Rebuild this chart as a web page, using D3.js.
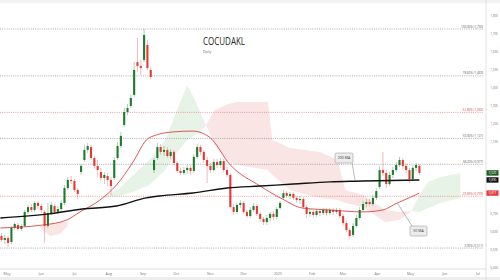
<!DOCTYPE html>
<html>
<head>
<meta charset="utf-8">
<script src="https://cdn.jsdelivr.net/npm/d3@7"></script>
<style>
  html, body { margin: 0; padding: 0; background: #fff; }
  svg { display: block; font-family: "Open Sans", "Noto Sans", sans-serif; }
</style>
</head>
<body>
<svg id="chart" width="500" height="280"></svg>
<script>
// daily-ish candles: date, open, high, low, close
const candles = [
  ["2024-04-26",0.578,0.595,0.545,0.556],["2024-04-29",0.556,0.584,0.534,0.567],["2024-05-02",0.567,0.578,0.517,0.539],
  ["2024-05-05",0.545,0.634,0.534,0.623],["2024-05-08",0.623,0.656,0.611,0.645],["2024-05-11",0.639,0.650,0.606,0.617],
  ["2024-05-14",0.617,0.645,0.606,0.634],["2024-05-17",0.634,0.723,0.628,0.712],["2024-05-20",0.712,0.751,0.701,0.739],
  ["2024-05-23",0.739,0.756,0.712,0.723],["2024-05-26",0.723,0.773,0.712,0.762],["2024-05-29",0.762,0.773,0.728,0.745],
  ["2024-06-01",0.745,0.756,0.706,0.723],["2024-06-04",0.712,0.723,0.539,0.634],["2024-06-07",0.634,0.762,0.623,0.706],
  ["2024-06-10",0.706,0.767,0.695,0.751],["2024-06-13",0.745,0.756,0.701,0.712],["2024-06-16",0.712,0.745,0.701,0.728],
  ["2024-06-19",0.728,0.778,0.712,0.762],["2024-06-22",0.762,0.862,0.751,0.845],["2024-06-25",0.845,0.906,0.834,0.890],
  ["2024-06-28",0.890,0.912,0.867,0.884],["2024-07-01",0.884,0.895,0.823,0.834],["2024-07-04",0.834,0.845,0.784,0.812],
  ["2024-07-07",0.934,0.979,0.918,0.968],["2024-07-10",1.001,1.085,0.990,1.057],["2024-07-13",1.057,1.096,1.040,1.079],
  ["2024-07-16",1.073,1.085,1.001,1.012],["2024-07-19",1.012,1.023,0.951,0.968],["2024-07-22",0.968,1.001,0.906,0.945],
  ["2024-07-25",0.934,0.957,0.884,0.901],["2024-07-28",0.901,0.934,0.867,0.918],["2024-07-31",0.912,0.929,0.856,0.890],
  ["2024-08-03",0.890,0.906,0.806,0.856],["2024-08-06",0.901,1.018,0.890,1.001],["2024-08-09",1.012,1.101,1.001,1.079],
  ["2024-08-12",1.079,1.157,1.068,1.135],["2024-08-15",1.196,1.290,1.185,1.268],["2024-08-18",1.268,1.313,1.251,1.290],
  ["2024-08-21",1.302,1.363,1.290,1.346],["2024-08-24",1.363,1.546,1.352,1.502],["2024-08-27",1.546,1.680,1.491,1.524],
  ["2024-08-30",1.524,1.558,1.474,1.513],["2024-09-02",1.558,1.730,1.546,1.697],["2024-09-05",1.641,1.669,1.502,1.513],
  ["2024-09-08",1.502,1.519,1.452,1.463],["2024-09-11",0.945,1.012,0.929,1.001],["2024-09-14",1.012,1.096,1.001,1.073],
  ["2024-09-17",1.073,1.090,1.029,1.046],["2024-09-20",1.046,1.079,1.023,1.057],["2024-09-23",1.057,1.073,1.012,1.023],
  ["2024-09-26",1.023,1.062,1.007,1.046],["2024-09-29",1.046,1.057,0.973,0.984],["2024-10-02",0.984,0.995,0.929,0.940],
  ["2024-10-05",0.940,0.957,0.918,0.929],["2024-10-08",0.929,0.962,0.918,0.945],["2024-10-11",0.945,0.973,0.923,0.957],
  ["2024-10-14",0.957,0.973,0.918,0.940],["2024-10-17",0.940,1.034,0.929,1.018],["2024-10-20",1.018,1.090,1.007,1.073],
  ["2024-10-23",1.073,1.085,1.029,1.046],["2024-10-26",1.046,1.057,0.984,1.001],["2024-10-29",1.001,1.018,0.873,0.968],
  ["2024-11-01",0.968,0.984,0.929,0.945],["2024-11-04",0.945,1.007,0.934,0.990],["2024-11-07",0.990,1.007,0.957,0.973],
  ["2024-11-10",0.973,1.012,0.957,0.995],["2024-11-13",0.995,1.007,0.934,0.945],["2024-11-16",0.945,0.962,0.906,0.918],
  ["2024-11-19",0.918,0.929,0.728,0.739],["2024-11-22",0.739,0.756,0.695,0.712],["2024-11-25",0.712,0.762,0.701,0.751],
  ["2024-11-28",0.751,0.778,0.734,0.762],["2024-12-01",0.762,0.773,0.701,0.712],["2024-12-04",0.712,0.723,0.678,0.689],
  ["2024-12-07",0.689,0.739,0.678,0.723],["2024-12-10",0.723,0.762,0.712,0.745],["2024-12-13",0.745,0.756,0.689,0.701],
  ["2024-12-16",0.701,0.712,0.656,0.673],["2024-12-19",0.673,0.684,0.639,0.656],["2024-12-22",0.656,0.695,0.639,0.678],
  ["2024-12-25",0.678,0.712,0.662,0.701],["2024-12-28",0.701,0.717,0.667,0.684],["2024-12-31",0.684,0.739,0.673,0.728],
  ["2025-01-03",0.734,0.773,0.723,0.762],["2025-01-06",0.790,0.834,0.778,0.817],["2025-01-09",0.817,0.828,0.790,0.801],
  ["2025-01-12",0.801,0.823,0.784,0.812],["2025-01-15",0.812,0.823,0.778,0.790],["2025-01-18",0.790,0.801,0.762,0.778],
  ["2025-01-21",0.778,0.801,0.756,0.784],["2025-01-24",0.784,0.795,0.728,0.739],["2025-01-27",0.739,0.751,0.678,0.701],
  ["2025-01-30",0.701,0.728,0.684,0.712],["2025-02-02",0.712,0.723,0.678,0.695],["2025-02-05",0.695,0.728,0.684,0.717],
  ["2025-02-08",0.717,0.728,0.689,0.706],["2025-02-11",0.706,0.734,0.695,0.723],["2025-02-14",0.723,0.734,0.689,0.706],
  ["2025-02-17",0.706,0.734,0.695,0.723],["2025-02-20",0.723,0.734,0.695,0.712],["2025-02-23",0.712,0.734,0.701,0.723],
  ["2025-02-26",0.723,0.734,0.678,0.689],["2025-03-01",0.689,0.701,0.634,0.650],["2025-03-04",0.650,0.662,0.600,0.611],
  ["2025-03-07",0.611,0.623,0.561,0.578],["2025-03-10",0.584,0.650,0.572,0.634],["2025-03-13",0.634,0.695,0.623,0.678],
  ["2025-03-16",0.678,0.739,0.667,0.723],["2025-03-19",0.723,0.773,0.712,0.756],["2025-03-22",0.756,0.784,0.739,0.767],
  ["2025-03-25",0.767,0.784,0.745,0.756],["2025-03-28",0.756,0.806,0.745,0.790],["2025-03-31",0.790,0.845,0.778,0.828],
  ["2025-04-03",0.851,0.968,0.840,0.945],["2025-04-06",0.945,1.046,0.912,0.929],["2025-04-09",0.929,0.945,0.845,0.867],
  ["2025-04-12",0.867,0.934,0.856,0.918],["2025-04-15",0.918,0.962,0.901,0.945],["2025-04-18",0.945,0.990,0.934,0.973],
  ["2025-04-21",0.973,1.018,0.962,1.001],["2025-04-24",1.001,1.012,0.951,0.968],["2025-04-27",0.968,0.984,0.929,0.945],
  ["2025-04-30",0.945,0.957,0.873,0.895],["2025-05-03",0.895,0.973,0.884,0.957],["2025-05-06",0.957,0.984,0.940,0.973],
  ["2025-05-09",0.968,0.979,0.918,0.929]
];

// moving averages
const ma200 = [
  ["2024-04-25",0.678],["2024-06-08",0.701],["2024-07-08",0.728],["2024-08-08",0.745],["2024-09-04",0.790],
  ["2024-09-16",0.801],["2024-10-16",0.817],["2024-11-16",0.845],["2024-12-16",0.856],["2025-01-15",0.867],
  ["2025-02-17",0.879],["2025-03-12",0.883],["2025-03-19",0.884],["2025-05-09",0.890]
];
const ma50 = [
  ["2024-04-25",0.623],["2024-06-02",0.639],["2024-06-24",0.667],["2024-07-06",0.712],["2024-07-24",0.778],
  ["2024-08-08",0.862],["2024-08-23",0.990],["2024-09-04",1.112],["2024-09-13",1.140],["2024-09-28",1.157],
  ["2024-10-16",1.162],["2024-10-31",1.129],["2024-11-19",0.973],["2024-12-16",0.856],["2025-01-05",0.784],
  ["2025-01-23",0.734],["2025-02-17",0.723],["2025-03-19",0.712],["2025-04-06",0.723],["2025-04-19",0.762],
  ["2025-04-21",0.767],["2025-05-09",0.817]
];

// cloud patches: date, upper, lower
const cloudRedJun = [["2024-05-31",0.634,0.623],["2024-06-09",0.645,0.578],["2024-06-18",0.656,0.589],["2024-06-25",0.656,0.634]];
const cloudGreenAug = [
  ["2024-07-28",0.801,0.790],["2024-08-11",0.845,0.801],["2024-08-23",0.918,0.823],["2024-09-07",1.001,0.862],
  ["2024-09-21",1.112,0.945],["2024-09-30",1.251,1.029],["2024-10-11",1.418,1.112],["2024-10-18",1.335,1.140],
  ["2024-10-25",1.235,1.168],["2024-10-28",1.196,1.196]
];
const cloudRedWinter = [
  ["2024-10-28",1.196,1.196],["2024-11-05",1.279,1.085],["2024-11-17",1.313,0.990],["2024-11-25",1.324,0.973],
  ["2024-12-23",1.324,0.945],["2024-12-27",1.112,0.918],["2025-01-12",1.068,0.834],["2025-02-08",1.046,0.790],
  ["2025-02-24",1.001,0.778],["2025-03-03",0.834,0.762],["2025-03-19",0.806,0.739],["2025-04-08",0.723,0.656],
  ["2025-04-21",0.712,0.667],["2025-05-02",0.717,0.717]
];
const cloudGreenMay = [
  ["2025-05-02",0.717,0.717],["2025-05-09",0.806,0.712],["2025-05-17",0.879,0.734],["2025-05-28",0.906,0.762],
  ["2025-06-15",0.929,0.790]
];

// fibonacci retracement
const fibPct = ["100.00%", "78.60%", "61.80%", "50.00%", "38.20%", "23.60%", "0.00%"];
const fibValues = [1.730, 1.469, 1.266, 1.121, 0.977, 0.799, 0.511];
const fibRed = [false, false, true, false, false, true, false];

const yTicks = [1.8, 1.7, 1.6, 1.5, 1.4, 1.3, 1.2, 1.1, 0.7, 0.6, 0.5, 0.4];

const parse = d3.timeParse("%Y-%m-%d");
const comma = v => d3.format(".3f")(v).replace(".", ",");

const svg = d3.select("#chart");
const right = 486, bottom = 269;

const x = d3.scaleTime()
  .domain([parse("2024-05-01"), parse("2025-07-01")])
  .range([7, 478]);
const y = d3.scaleLinear()
  .domain([0.4, 1.8])
  .range([268.0, 16.4]);

// light bands top and bottom
svg.append("rect").attr("x", 0).attr("y", 0).attr("width", 500).attr("height", 3).attr("fill", "#f2f2f2");
svg.append("rect").attr("x", 0).attr("y", 277).attr("width", 500).attr("height", 3).attr("fill", "#eeeeee");

// clouds (kept pale, they sit behind everything)
const area = d3.area()
  .x(d => x(parse(d[0])))
  .y0(d => y(d[2]))
  .y1(d => y(d[1]));
[[cloudRedJun, "#f6cfcf"], [cloudGreenAug, "#d3ead3"], [cloudRedWinter, "#f6cfcf"], [cloudGreenMay, "#d3ead3"]]
  .forEach(([pts, col]) => {
    svg.append("path").attr("d", area(pts)).attr("fill", col).attr("opacity", 0.55);
  });

// fib lines + labels
fibValues.forEach((v, i) => {
  const col = fibRed[i] ? "#e57373" : "#8a8a8a";
  svg.append("line")
    .attr("x1", 0).attr("x2", 484)
    .attr("y1", y(v)).attr("y2", y(v))
    .attr("stroke", col).attr("stroke-width", 0.7)
    .attr("stroke-dasharray", "1,1.2");
  svg.append("text")
    .attr("x", 483).attr("y", y(v) - 1.4)
    .attr("text-anchor", "end")
    .attr("font-size", 3)
    .attr("fill", fibRed[i] ? "#e53935" : "#555")
    .text(`${fibPct[i]} (${comma(v)})`);
});

// candles
const cw = 2.1;
const g = svg.append("g");
candles.forEach(c => {
  const [date, o, h, l, cl] = c;
  const cx = x(parse(date));
  const up = cl >= o;
  const col = up ? "#1e7a2c" : "#e53935";
  g.append("line")
    .attr("x1", cx).attr("x2", cx)
    .attr("y1", y(h)).attr("y2", y(l))
    .attr("stroke", col).attr("stroke-width", 0.5).attr("opacity", 0.7);
  g.append("rect")
    .attr("x", cx - cw / 2)
    .attr("y", y(Math.max(o, cl)))
    .attr("width", cw)
    .attr("height", Math.max(0.6, Math.abs(y(o) - y(cl))))
    .attr("fill", col);
});

// moving averages
const line = d3.line()
  .x(d => x(parse(d[0])))
  .y(d => y(d[1]))
  .curve(d3.curveMonotoneX);
svg.append("path").attr("d", line(ma50)).attr("fill", "none").attr("stroke", "#d32f2f").attr("stroke-width", 0.8);
svg.append("path").attr("d", line(ma200)).attr("fill", "none").attr("stroke", "#111").attr("stroke-width", 1.4);

// callouts, pointer goes to a point on the MA
function callout(label, bx, by, w, h, px, py, date, series) {
  const pt = series.find(d => d[0] === date);
  svg.append("line")
    .attr("x1", px).attr("y1", py)
    .attr("x2", x(parse(pt[0]))).attr("y2", y(pt[1]))
    .attr("stroke", "#777").attr("stroke-width", 0.5);
  svg.append("rect")
    .attr("x", bx).attr("y", by).attr("width", w).attr("height", h).attr("rx", 1.5)
    .attr("fill", "#ececec").attr("stroke", "#8c8c8c").attr("stroke-width", 0.5);
  svg.append("text")
    .attr("x", bx + w / 2).attr("y", by + h / 2 + 1.2)
    .attr("text-anchor", "middle").attr("font-size", 3.5).attr("fill", "#333")
    .text(label);
}
callout("200 MA", 335, 153, 18, 10, 352, 163, "2025-03-12", ma200);
callout("50 MA", 410, 226, 17, 10, 412, 226, "2025-04-19", ma50);

// axes lines
svg.append("line").attr("x1", 0).attr("x2", right).attr("y1", bottom).attr("y2", bottom)
  .attr("stroke", "#cfcfcf").attr("stroke-width", 0.6);
svg.append("line").attr("x1", right).attr("x2", right).attr("y1", 0).attr("y2", 280)
  .attr("stroke", "#cfcfcf").attr("stroke-width", 0.6);

// month labels
const months = d3.timeMonth.range(parse("2024-05-01"), parse("2025-07-02"));
svg.append("g").selectAll("text")
  .data(months)
  .join("text")
  .attr("x", d => x(d))
  .attr("y", 274.5)
  .attr("text-anchor", "middle")
  .attr("font-size", 3.6)
  .attr("fill", "#777")
  .text(d => d.getMonth() === 0 ? d.getFullYear() : d3.timeFormat("%b")(d));

// price axis labels
svg.append("g").selectAll("text")
  .data(yTicks)
  .join("text")
  .attr("x", 494)
  .attr("y", d => y(d) + 1)
  .attr("text-anchor", "middle")
  .attr("font-size", 3)
  .attr("fill", "#777")
  .text(d => comma(d));

// last value tags
const last = candles[candles.length - 1];
const tags = [
  [last[4], "#1b5e20", "#fff"],
  [ma200[ma200.length - 1][1], "#111", "#fff"],
  [ma50[ma50.length - 1][1], "#e53935", "#fff"]
];
tags.forEach(([v, bg, fg]) => {
  svg.append("rect").attr("x", 486.5).attr("y", y(v) - 2.7).attr("width", 12).attr("height", 5.4).attr("fill", bg);
  svg.append("text").attr("x", 492.5).attr("y", y(v) + 1.1)
    .attr("text-anchor", "middle").attr("font-size", 3).attr("fill", fg)
    .text(comma(v));
});

// title
svg.append("text")
  .attr("x", 203).attr("y", 45)
  .attr("font-size", 10.5)
  .attr("textLength", 42).attr("lengthAdjust", "spacingAndGlyphs")
  .attr("fill", "#222")
  .text("COCUDAKL");
svg.append("text")
  .attr("x", 203).attr("y", 53)
  .attr("font-size", 3.6)
  .attr("fill", "#666")
  .text("Daily");
</script>
</body>
</html>
